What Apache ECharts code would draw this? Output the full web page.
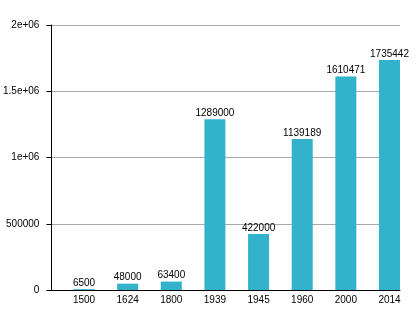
<!DOCTYPE html>
<html><head><meta charset="utf-8">
<script src="https://cdn.jsdelivr.net/npm/echarts@6/dist/echarts.min.js"></script>
<style>html,body{margin:0;padding:0;background:#fff}#c{width:420px;height:320px}</style>
</head><body><div id="c"></div>
<script>
const categories = ['1500','1624','1800','1939','1945','1960','2000','2014'];
const values = [6500, 48000, 63400, 1289000, 422000, 1139189, 1610471, 1735442];
const yMin = 0, yMax = 2000000, yStep = 500000;

const font = 'Liberation Sans, Arial, sans-serif';
const fmtY = v => v === 0 ? '0' : (v >= 1e6 ? (v / 1e6) + 'e+06' : String(v));

const chart = echarts.init(document.getElementById('c'), null, {renderer: 'canvas'});
chart.setOption({
  animation: false,
  backgroundColor: '#fff',
  grid: [
    {left: 84, right: 30.5, top: 25, bottom: 30},
    {left: 50, right: 20, top: 25, bottom: 30}
  ],
  xAxis: [
    {gridIndex: 0, type: 'category', data: categories, boundaryGap: false,
     axisLine: {show: false}, axisTick: {show: false},
     axisLabel: {color: '#000', fontFamily: font, fontSize: 10, margin: 5}},
    {gridIndex: 1, type: 'category', data: categories,
     axisLine: {show: true, lineStyle: {color: '#000', width: 1}},
     axisTick: {show: false}, axisLabel: {show: false}, splitLine: {show: false}}
  ],
  yAxis: [
    {gridIndex: 0, type: 'value', min: yMin, max: yMax, interval: yStep, show: false, splitLine: {show: false}},
    {gridIndex: 1, type: 'value', min: yMin, max: yMax, interval: yStep,
     axisLine: {show: true, lineStyle: {color: '#000', width: 1}},
     axisTick: {show: true, length: 5, lineStyle: {color: '#000'}},
     axisLabel: {color: '#000', fontFamily: font, fontSize: 10, margin: 12, formatter: fmtY},
     splitLine: {show: true, lineStyle: {color: '#aaa', width: 1}}}
  ],
  series: [{
    type: 'bar', xAxisIndex: 0, yAxisIndex: 0, data: values, barWidth: 21,
    itemStyle: {color: '#33b2cc'},
    label: {show: true, position: 'top', distance: 1, color: '#000', fontFamily: font, fontSize: 10}
  }]
});
</script></body></html>
